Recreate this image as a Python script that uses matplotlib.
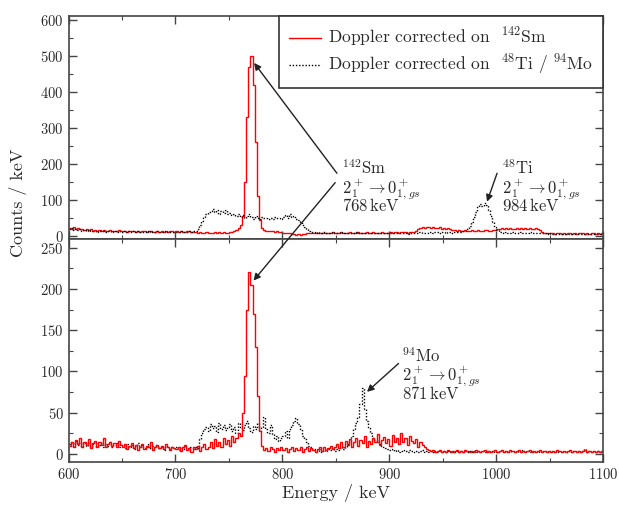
import numpy as np
import matplotlib.pyplot as plt
from matplotlib.patches import ConnectionPatch

plt.rcParams["font.family"] = "serif"
plt.rcParams["font.serif"] = ["cmr10"]
plt.rcParams["mathtext.fontset"] = "cm"
plt.rcParams["axes.formatter.use_mathtext"] = True

# 2 keV bins from 600 to 1100 keV
e_lo, e_hi, bin_w = 600, 1100, 2

# top panel: spectrum gated on 142Sm (red) and on 48Ti/94Mo (dotted)
sm_top = [22,20,24,19,21, 18,20,17,19,16, 18,15,17,14,16, 15,17,13,15,16, 14,15,13,16,14,
          13,15,12,14,13, 15,12,14,11,13, 15,12,13,14,12, 11,13,12,14,11, 13,12,14,13,11,
          13,12,14,12,11, 13,15,12,10,11, 9,10,8,9,10, 7,9,8,10,9, 11,9,10,8,9,
          11,10,13,16,22, 30,55,150,330,470, 500,420,260,110,45, 22,16,14,15,13, 14,12,13,11,10,
          9,8,9,7,6, 5,4,5,4,5, 6,7,8,7,8, 9,8,9,8,7, 9,8,9,10,8,
          9,8,10,9,8, 9,10,8,9,8, 10,9,8,9,10, 8,9,10,9,8, 9,10,9,8,9,
          10,9,10,11,9, 10,11,10,9,11, 10,12,13,18,22, 25,21,24,26,22, 25,21,23,24,20,
          22,19,21,18,16, 17,15,16,14,15, 16,14,15,17,13, 15,16,14,15,17, 16,15,14,16,17,
          18,19,21,20,22, 19,21,18,20,22, 19,21,20,23,18, 21,19,20,22,18, 16,12,9,8,7,
          7,8,6,7,8, 6,7,6,7,8, 6,7,6,7,8, 7,6,7,6,7, 8,6,7,6,7]

mo_top = [18,21,17,20,16, 19,15,17,14,16, 13,15,14,12,15, 13,14,12,13,15, 12,14,11,13,12,
          12,14,11,13,12, 14,11,13,12,10, 12,14,11,13,12, 11,13,10,12,11, 13,12,10,12,11,
          12,11,13,10,12, 11,14,12,13,14, 20,30,42,52,60, 66,70,74,66,72, 62,70,65,73,60,
          64,58,62,55,60, 52,57,50,55,60, 52,48,55,50,47, 52,49,51,47,50, 48,52,49,51,47,
          53,58,50,60,52, 55,48,45,38,30, 24,18,14,11,10, 9,10,8,9,10, 8,9,8,10,9,
          8,9,10,8,9, 7,8,9,8,10, 8,9,7,8,9, 8,7,9,8,7, 8,9,8,7,8,
          8,7,8,9,7, 8,7,8,6,7, 8,7,8,9,10, 9,8,9,10,11, 9,10,11,9,10,
          10,9,11,10,9, 11,10,12,11,13, 15,20,28,38,52, 66,80,88,82,92, 86,72,55,38,25,
          16,12,10,9,10, 8,9,10,8,9, 8,10,9,8,9, 10,8,9,8,9, 7,8,7,6,7,
          6,5,6,5,6, 5,6,5,6,5, 6,5,6,5,6, 5,6,5,6,5, 6,5,6,5,6]

# bottom panel
sm_bot = [10,14,8,17,12, 20,9,15,11,18, 7,13,16,9,14, 11,19,8,12,15, 10,13,9,16,11,
          8,12,6,10,13, 7,11,5,9,12, 6,10,8,14,5, 9,11,7,10,6, 12,8,5,9,7,
          6,9,4,8,11, 5,7,3,9,6, 10,4,8,12,6, 9,14,7,18,10, 15,8,20,12,17,
          10,22,14,19,25, 22,50,95,175,220, 205,170,130,70,28, 10,5,7,4,8, 6,3,7,5,8,
          5,7,3,6,8, 4,7,5,9,3, 6,8,4,7,5, 3,6,8,4,9, 5,7,10,6,8,
          12,7,14,9,16, 11,18,8,15,20, 10,17,13,22,9, 16,12,19,14,24, 11,17,21,13,18,
          10,23,15,19,12, 25,14,20,11,22, 16,13,18,9,15, 11,8,6,5,4, 5,3,4,5,3,
          4,3,5,4,3, 4,5,3,4,3, 5,4,3,4,3, 5,4,3,4,5, 3,4,3,4,5,
          3,4,5,3,4, 3,5,4,3,4, 5,3,4,3,4, 5,3,4,3,4, 5,3,4,3,4,
          3,4,3,5,4, 3,4,3,4,5, 3,4,3,4,3, 4,5,3,4,3, 4,3,4,3,4]

mo_bot = [12,15,9,16,11, 14,8,13,10,15, 9,12,14,8,11, 13,9,12,10,14, 8,11,13,9,12,
          10,7,12,9,11, 6,10,13,8,11, 7,9,12,6,10, 8,11,7,9,5, 10,8,6,9,7,
          8,5,9,6,10, 7,5,8,6,9, 7,18,25,30,33, 28,36,31,34,27, 38,30,35,29,33,
          36,28,33,26,38, 32,29,35,40,31, 27,34,30,38,28, 33,45,30,26,35, 24,18,22,16,20,
          22,28,20,30,35, 40,44,36,30,22, 18,14,10,8,6, 5,4,6,3,5, 4,6,5,7,4,
          6,5,8,6,9, 12,16,22,30,38, 45,60,80,55,40, 32,25,20,17,14, 12,10,8,7,6,
          5,6,4,5,3, 4,5,4,3,5, 4,3,4,3,4, 5,3,4,3,4, 3,4,3,4,3,
          4,3,4,3,4, 3,4,3,4,3, 4,3,4,3,4, 3,4,3,4,3, 4,3,4,3,4,
          3,4,3,4,3, 4,3,4,3,4, 3,4,5,3,4, 3,4,3,4,3, 4,3,4,3,4,
          3,4,3,4,3, 4,3,4,3,4, 3,4,3,4,3, 4,6,3,4,3, 4,3,4,3,4]

edges = np.arange(e_lo, e_hi + bin_w, bin_w)
n_bins = len(edges) - 1
assert all(len(s) == n_bins for s in (sm_top, mo_top, sm_bot, mo_bot)), \
    [len(s) for s in (sm_top, mo_top, sm_bot, mo_bot)]

txt_col = "#2a2a2a"
dot = (0, (1, 1.3))

fig = plt.figure(figsize=(6.19, 5.08), dpi=100)
ax1 = fig.add_axes([0.1107, 0.5305, 0.8641, 0.4386])
ax2 = fig.add_axes([0.1107, 0.0911, 0.8641, 0.4394])

ax1.stairs(sm_top, edges, color="red", lw=1.0, baseline=None,
           label=r"Doppler corrected on  $^{142}$Sm")
ax1.stairs(mo_top, edges, color="black", lw=1.0, ls=dot, baseline=None,
           label=r"Doppler corrected on  $^{48}$Ti / $^{94}$Mo")
ax2.stairs(mo_bot, edges, color="black", lw=1.0, ls=dot, baseline=None)
ax2.stairs(sm_bot, edges, color="red", lw=1.0, baseline=None)

ax1.set_ylim(-7, 611)
ax2.set_ylim(-9.3, 261)
for ax in (ax1, ax2):
    ax.set_xlim(600, 1100)
    ax.set_xticks(np.arange(600, 1101, 100))
    ax.set_xticks(np.arange(600, 1101, 50), minor=True)
    ax.tick_params(which="both", direction="in", top=True, right=True,
                   labelsize=10.5, labelcolor=txt_col, color="#444444")
    ax.tick_params(which="major", length=6, width=1)
    ax.tick_params(which="minor", length=3, width=0.8)
    for s in ax.spines.values():
        s.set_linewidth(1.2)
        s.set_color("#444444")
ax1.set_yticks(np.arange(0, 601, 100))
ax1.set_yticks(np.arange(0, 601, 50), minor=True)
ax2.set_yticks(np.arange(0, 251, 50))
ax2.set_yticks(np.arange(0, 251, 25), minor=True)
ax1.tick_params(labelbottom=False)

leg = ax1.legend(loc="upper right", borderaxespad=0, fancybox=False,
                 edgecolor="#333333", framealpha=1, fontsize=12.6,
                 handlelength=1.8, handletextpad=0.4, borderpad=0.6,
                 labelspacing=0.2)
leg.get_frame().set_linewidth(1.2)
for t in leg.get_texts():
    t.set_color(txt_col)

# annotation labels
def label(ax, x, ys, lines):
    for y, s in zip(ys, lines):
        ax.text(x, y, s, fontsize=12, color=txt_col, va="baseline", ha="left")

label(ax1, 855.8, [171, 119, 70],
      [r"$^{142}$Sm", r"$2_1^+ \rightarrow 0^+_{1,gs}$", r"768$\,$keV"])
label(ax1, 1005.5, [171, 119, 70],
      [r"$^{48}$Ti", r"$2_1^+ \rightarrow 0^+_{1,gs}$", r"984$\,$keV"])
label(ax2, 912, [111, 89.5, 66.5],
      [r"$^{94}$Mo", r"$2_1^+ \rightarrow 0^+_{1,gs}$", r"871$\,$keV"])

arrow = dict(arrowstyle="-|>", color="#222222", lw=1.0, mutation_scale=10,
             shrinkA=0, shrinkB=0)
arrows = [
    ((850.9, 174), ax1, (773.5, 480), ax1),
    ((849.3, 148), ax1, (772.9, 210), ax2),
    ((1000.6, 174), ax1, (991.2, 95), ax1),
    ((908.5, 109.7), ax2, (879.0, 75.3), ax2),
]
for xa, axa, xb, axb in arrows:
    cp = ConnectionPatch(xyA=xa, coordsA=axa.transData, xyB=xb, coordsB=axb.transData,
                         **arrow)
    fig.add_artist(cp)

fig.text(18 / 619, 1 - 203 / 508, "Counts / keV", rotation=90, ha="center",
         va="center", fontsize=13, color=txt_col)
fig.text(336 / 619, 1 - 493 / 508, "Energy / keV", ha="center", va="center",
         fontsize=13, color=txt_col)

fig.savefig("out.png", dpi=100)
